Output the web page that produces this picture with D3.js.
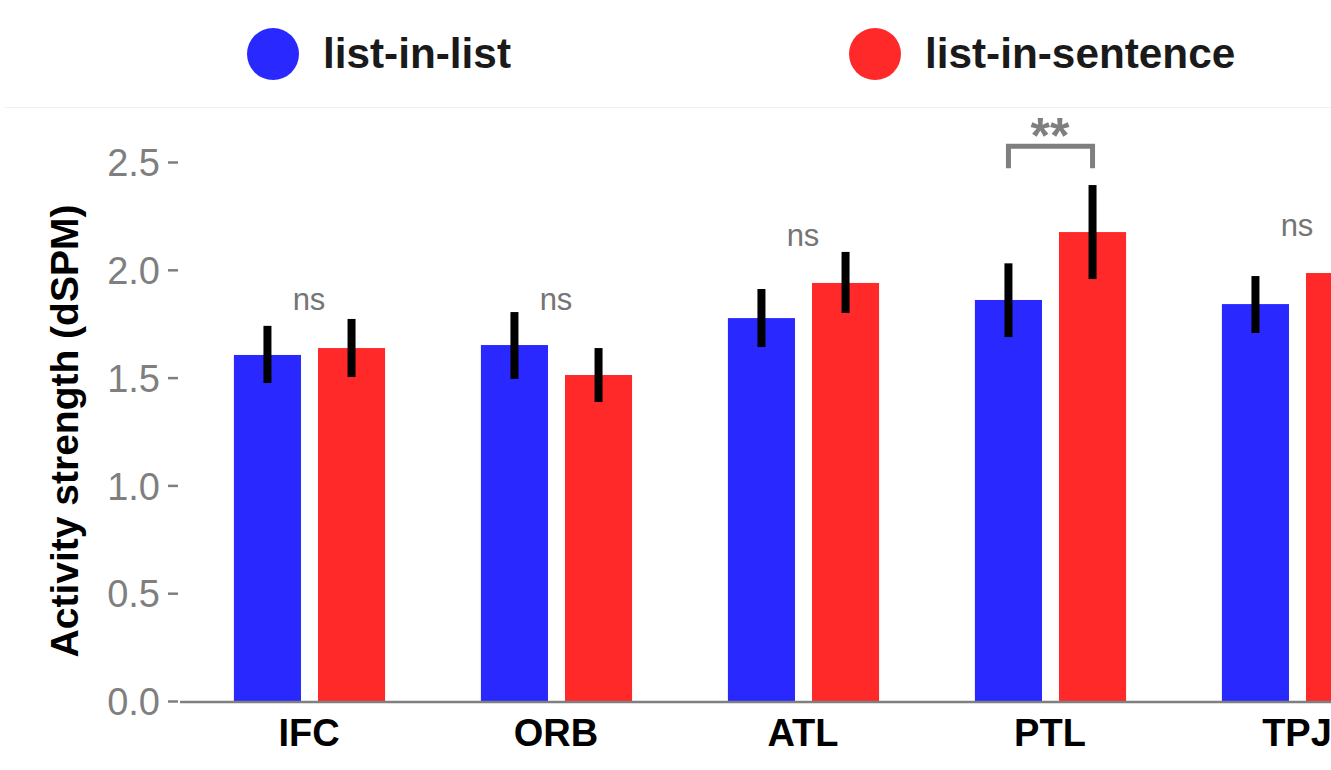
<!DOCTYPE html>
<html lang="en">
<head>
    <meta charset="UTF-8">
    <title>Activity strength by region</title>
    <script src="https://d3js.org/d3.v7.min.js"></script>
    <style>
        body { margin: 0; background: #fff; }
        svg { display: block; font-family: "Liberation Sans", Arial, sans-serif; }
        .tick-label { fill: #7f7f7f; font-size: 38px; }
        .cat-label { fill: #000; font-size: 38px; font-weight: bold; }
        .axis-title { fill: #000; font-size: 39px; font-weight: bold; }
        .legend-text { fill: #1a1a1a; font-size: 42.3px; font-weight: bold; }
        .sig { fill: #757575; font-size: 31px; }
    </style>
</head>
<body>
    <svg id="chart" width="1331" height="770"></svg>

    <script>
        // data
        const regions = ["IFC", "ORB", "ATL", "PTL", "TPJ"];
        const series = ["list-in-list", "list-in-sentence"];
        const colors = ["#2929ff", "#ff2929"];
        const listInList = [1.605, 1.651, 1.776, 1.860, 1.841];
        const listInListLo = [1.475, 1.494, 1.642, 1.688, 1.707];
        const listInListHi = [1.740, 1.804, 1.911, 2.030, 1.971];
        const listInSentence = [1.637, 1.512, 1.939, 2.175, 1.985];
        const listInSentenceLo = [1.503, 1.387, 1.800, 1.957, 1.850];
        const listInSentenceHi = [1.772, 1.637, 2.083, 2.393, 2.120];
        const sigLabels = ["ns", "ns", "ns", "**", "ns"];
        const sigHeights = [1.813, 1.813, 2.110, 2.573, 2.155];
        const yTicks = [0, 0.5, 1.0, 1.5, 2.0, 2.5];

        const rows = [];
        regions.forEach((r, i) => {
            rows.push({ region: r, series: series[0], value: listInList[i], lo: listInListLo[i], hi: listInListHi[i] });
            rows.push({ region: r, series: series[1], value: listInSentence[i], lo: listInSentenceLo[i], hi: listInSentenceHi[i] });
        });

        const svg = d3.select("#chart");
        const plotLeft = 185.5, step = 247;
        const baseY = 701, topY = 162;

        const x0 = d3.scaleBand().domain(regions).range([plotLeft, plotLeft + step * regions.length]).padding(0);
        const x1 = d3.scaleBand().domain(series).range([x0.bandwidth() * 0.196, x0.bandwidth() * 0.808]).paddingInner(0.2024);
        const y = d3.scaleLinear().domain([0, 2.5]).range([baseY, topY]);
        const color = d3.scaleOrdinal().domain(series).range(colors);

        // faint panel top line
        svg.append("line")
            .attr("x1", 5).attr("x2", 1331)
            .attr("y1", 107.5).attr("y2", 107.5)
            .attr("stroke", "#f0f0f0").attr("stroke-width", 1);

        // legend
        const legendX = [273, 875];
        series.forEach((s, i) => {
            svg.append("circle")
                .attr("cx", legendX[i]).attr("cy", 54).attr("r", 26)
                .attr("fill", color(s));
            svg.append("text")
                .attr("class", "legend-text")
                .attr("x", legendX[i] + 50).attr("y", 68)
                .text(s);
        });

        // y axis (ticks + labels, no line)
        const yAxis = svg.append("g").attr("transform", "translate(178,0)")
            .call(d3.axisLeft(y).tickValues(yTicks).tickFormat(d3.format(".1f")).tickSize(10).tickPadding(8));
        yAxis.select(".domain").remove();
        yAxis.selectAll(".tick line").attr("stroke", "#7f7f7f").attr("stroke-width", 2.5);
        yAxis.selectAll(".tick text").attr("class", "tick-label").attr("font-size", null).attr("font-family", null)
            .attr("fill", null).attr("dy", "0.36em");

        // bars
        const groups = svg.selectAll("g.grp")
            .data(regions)
            .enter().append("g")
            .attr("class", "grp")
            .attr("transform", d => `translate(${x0(d)},0)`);

        groups.selectAll("rect.bar")
            .data(r => rows.filter(d => d.region === r))
            .enter().append("rect")
            .attr("class", "bar")
            .attr("x", d => x1(d.series))
            .attr("y", d => y(d.value))
            .attr("width", x1.bandwidth())
            .attr("height", d => y(0) - y(d.value))
            .attr("fill", d => color(d.series));

        // error bars
        groups.selectAll("rect.err")
            .data(r => rows.filter(d => d.region === r))
            .enter().append("rect")
            .attr("class", "err")
            .attr("x", d => x1(d.series) + x1.bandwidth() / 2 - 4)
            .attr("y", d => y(d.hi))
            .attr("width", 8)
            .attr("height", d => y(d.lo) - y(d.hi))
            .attr("fill", "#000");

        // x axis line
        svg.append("line")
            .attr("x1", 180).attr("x2", 1331)
            .attr("y1", y(0) + 1).attr("y2", y(0) + 1)
            .attr("stroke", "#7f7f7f").attr("stroke-width", 2.5);

        // category labels
        svg.selectAll("text.cat")
            .data(regions)
            .enter().append("text")
            .attr("class", "cat-label")
            .attr("x", d => x0(d) + x0.bandwidth() / 2)
            .attr("y", 746)
            .attr("text-anchor", "middle")
            .text(d => d);

        // significance annotations
        regions.forEach((r, i) => {
            const cx = x0(r) + x0.bandwidth() / 2;
            if (sigLabels[i] === "ns") {
                svg.append("text")
                    .attr("class", "sig")
                    .attr("x", cx).attr("y", y(sigHeights[i]))
                    .attr("text-anchor", "middle")
                    .text("ns");
            } else {
                const xa = x0(r) + x1(series[0]) + x1.bandwidth() / 2;
                const xb = x0(r) + x1(series[1]) + x1.bandwidth() / 2;
                const yb = y(sigHeights[i]);
                svg.append("path")
                    .attr("d", `M${xa},${yb + 22}V${yb}H${xb}V${yb + 22}`)
                    .attr("fill", "none")
                    .attr("stroke", "#7f7f7f")
                    .attr("stroke-width", 5);
                svg.append("text")
                    .attr("x", cx).attr("y", yb + 7)
                    .attr("text-anchor", "middle")
                    .attr("fill", "#7f7f7f")
                    .attr("font-size", 50)
                    .attr("font-weight", "bold")
                    .text(sigLabels[i]);
            }
        });

        // y axis title
        svg.append("text")
            .attr("class", "axis-title")
            .attr("transform", "translate(78,431) rotate(-90)")
            .attr("text-anchor", "middle")
            .text("Activity strength (dSPM)");
    </script>
</body>
</html>
